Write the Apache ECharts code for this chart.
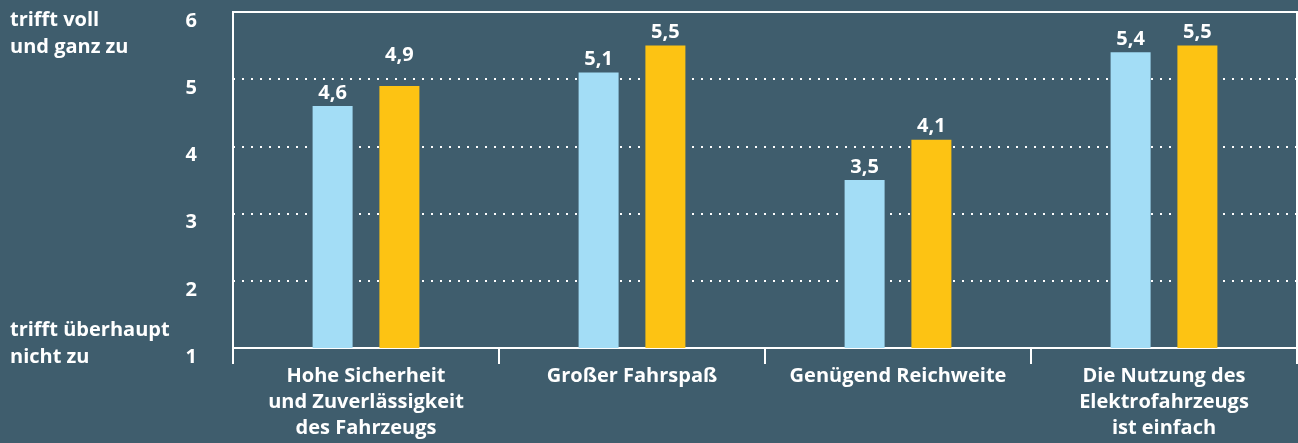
<!DOCTYPE html>
<html>
<head>
<meta charset="utf-8">
<script src="https://cdn.jsdelivr.net/npm/echarts@6/dist/echarts.min.js"></script>
<style>
  html, body { margin: 0; padding: 0; background: #3f5d6d; }
  #chart { width: 1298px; height: 443px; }
</style>
</head>
<body>
<div id="chart"></div>
<script>
var categories = [
  'Hohe Sicherheit\nund Zuverlässigkeit\ndes Fahrzeugs',
  'Großer Fahrspaß',
  'Genügend Reichweite',
  'Die Nutzung des\nElektrofahrzeugs\nist einfach'
];
var seriesBlue = [4.6, 5.1, 3.5, 5.4];
var seriesYellow = [4.9, 5.5, 4.1, 5.5];
var yTicks = [1, 2, 3, 4, 5, 6];

var font = '"Open Sans", "DejaVu Sans", sans-serif';

var chart = echarts.init(document.getElementById('chart'));

function valueLabel() {
  return {
    show: true,
    position: 'top',
    distance: 3,
    color: '#fff',
    fontFamily: font,
    fontWeight: 'bold',
    fontSize: 20,
    formatter: function (p) { return String(p.value).replace('.', ','); }
  };
}

// the 4,9 label sits above the dotted line in the original
var yellowData = seriesYellow.map(function (v, i) {
  return i === 0 ? { value: v, label: { distance: 21 } } : v;
});

chart.setOption({
  backgroundColor: '#3f5d6d',
  animation: false,
  grid: {
    left: 233, right: 1, top: 12, bottom: 95,
    show: true,
    borderColor: '#fff',
    borderWidth: 2
  },
  graphic: [
    {
      type: 'text', left: 10, top: 7,
      style: {
        text: 'trifft voll\nund ganz zu',
        fill: '#fff', font: 'bold 20px ' + font, lineHeight: 27
      }
    },
    {
      type: 'text', left: 10, top: 317,
      style: {
        text: 'trifft überhaupt\nnicht zu',
        fill: '#fff', font: 'bold 20px ' + font, lineHeight: 27
      }
    }
  ],
  xAxis: {
    type: 'category',
    data: categories,
    axisLine: { lineStyle: { color: '#fff', width: 2 } },
    axisTick: { show: true, length: 16, lineStyle: { color: '#fff', width: 2 } },
    axisLabel: {
      color: '#fff', fontFamily: font, fontWeight: 'bold', fontSize: 20,
      lineHeight: 26, margin: 15, interval: 0
    }
  },
  yAxis: {
    type: 'value',
    min: 1, max: 6, interval: 1,
    axisLine: { show: false },
    axisTick: { show: false },
    axisLabel: {
      color: '#fff', fontFamily: font, fontWeight: 'bold', fontSize: 20,
      margin: 36, verticalAlign: 'top', lineHeight: 18,
      formatter: function (v) { return yTicks.indexOf(v) >= 0 ? String(v) : ''; }
    },
    splitLine: { lineStyle: { color: '#fff', width: 2, type: [2, 7] } }
  },
  series: [
    {
      name: 'Reihe 1', type: 'bar', data: seriesBlue,
      barWidth: 40, barGap: '67%',
      itemStyle: { color: '#a3ddf6' },
      label: valueLabel()
    },
    {
      name: 'Reihe 2', type: 'bar', data: yellowData,
      barWidth: 40,
      itemStyle: { color: '#fdc313' },
      label: valueLabel()
    }
  ]
});
</script>
</body>
</html>
